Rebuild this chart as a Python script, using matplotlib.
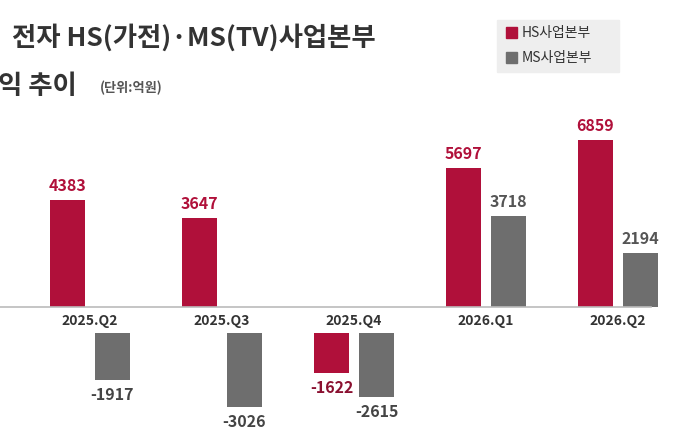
import matplotlib
matplotlib.use('Agg')
import matplotlib.pyplot as plt
from matplotlib.patches import Rectangle

plt.rcParams['font.family'] = ['Noto Sans CJK KR', 'DejaVu Sans']

quarters = ['2025.Q2', '2025.Q3', '2025.Q4', '2026.Q1', '2026.Q2']
hs = [4383, 3647, -1622, 5697, 6859]
ms = [-1917, -3026, -2615, 3718, 2194]

RED = '#b0103a'
GREY = '#6e6e6e'

W, H = 686, 440
fig = plt.figure(figsize=(W / 100, H / 100), dpi=100)
ax = fig.add_axes([0, 0, 1, (H - 100) / H])
ax.axis('off')
ax.set_xlim(-90 / 132, (W - 90) / 132)
scale = 0.0244
ax.set_ylim(-(H - 307) / scale, 207 / scale)
neg_gap = 26 / scale  # negative bars start below the quarter labels

bw = 0.27
off = 0.17
for i, (h, m) in enumerate(zip(hs, ms)):
    for x, v, c, lc in ((i - off, h, RED, '#8a1030'), (i + off, m, GREY, '#444444')):
        if v >= 0:
            ax.bar(x, v, bw, color=c)
            ax.text(x, v + 250, f'{v}', ha='center', va='bottom', fontsize=11.5,
                    fontweight='bold', color=RED if c == RED else '#555555')
        else:
            ax.bar(x, v, bw, bottom=-neg_gap, color=c)
            ax.text(x, v - neg_gap - 300, f'{v}', ha='center', va='top', fontsize=11.5,
                    fontweight='bold', color=lc)
    ax.text(i, -300, quarters[i], ha='center', va='top', fontsize=10,
            fontweight='bold', color='#333333')
ax.plot([-0.7, 4.25], [0, 0], color='#bbbbbb', lw=1.2)

fig.text(12 / W, 1 - 38 / H, '전자 HS(가전)·MS(TV)사업본부', fontsize=19,
         fontweight='bold', color='#333333', va='center')
fig.text(-2 / W, 1 - 86 / H, '익 추이', fontsize=19, fontweight='bold',
         color='#333333', va='center')
fig.text(100 / W, 1 - 88 / H, '(단위:억원)', fontsize=9.5, fontweight='bold',
         color='#555555', va='center')

fig.patches.append(Rectangle((497 / W, 1 - 72 / H), 122 / W, 52 / H,
                             transform=fig.transFigure, color='#eeeeee', zorder=0))
for k, (lab, c) in enumerate((('HS사업본부', RED), ('MS사업본부', GREY))):
    y = 1 - (33 + 25 * k) / H
    fig.patches.append(Rectangle((506 / W, y - 5 / H), 11 / W, 11 / H,
                                 transform=fig.transFigure, color=c))
    fig.text(522 / W, y, lab, fontsize=10, color='#333333', va='center')

fig.savefig('out.png', dpi=100)
